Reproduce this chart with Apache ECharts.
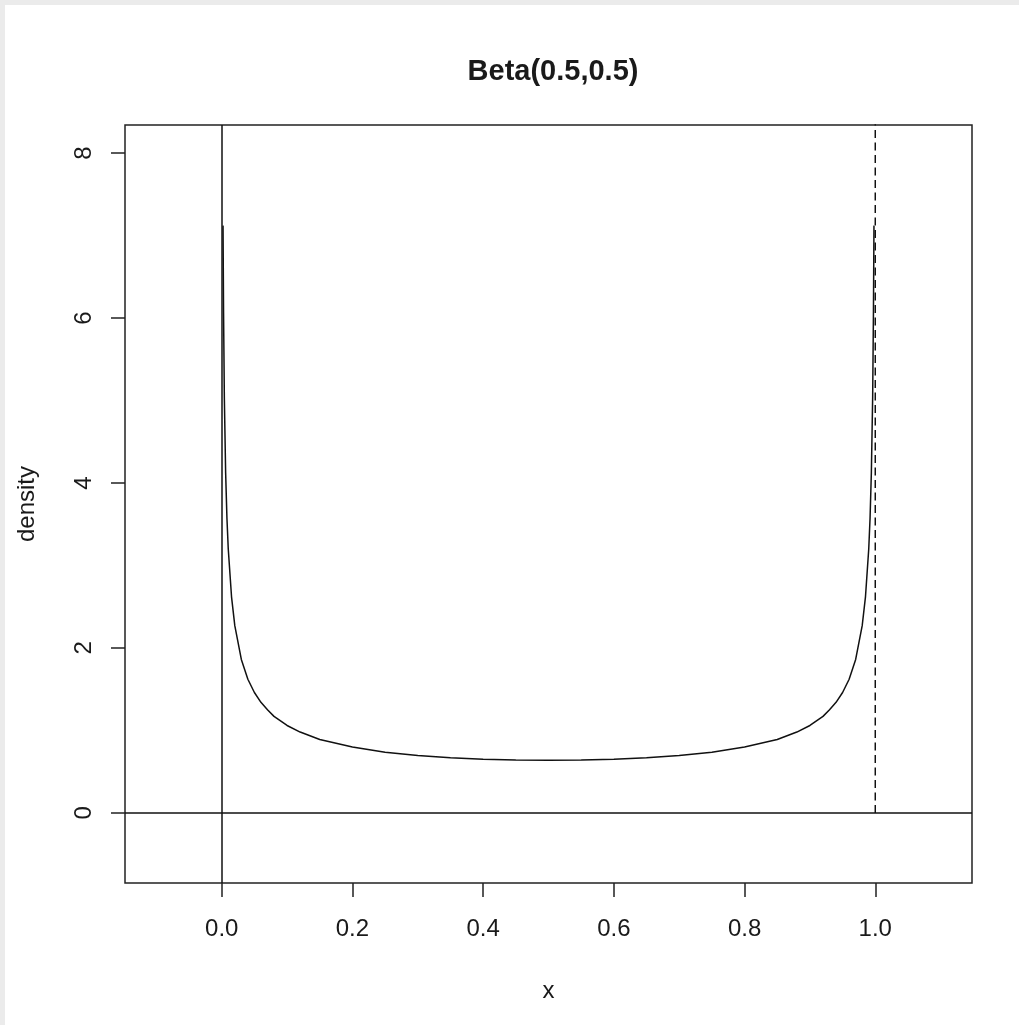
<!DOCTYPE html>
<html>
<head>
<meta charset="utf-8">
<script src="https://cdn.jsdelivr.net/npm/echarts@6/dist/echarts.min.js"></script>
<style>
  html, body { margin: 0; padding: 0; background: #fff; }
  #frame { position: absolute; left: 0; top: 0; width: 1019px; height: 1025px;
           border-left: 5px solid #ebebeb; border-top: 5px solid #ebebeb; box-sizing: border-box; }
  #betaChart { position: absolute; left: 0; top: 0; width: 1019px; height: 1025px; }
</style>
</head>
<body>
<div id="frame"></div>
<div id="betaChart"></div>
<script>
// values
var xValues = [0.002, 0.0028, 0.004, 0.006, 0.008, 0.01, 0.015, 0.02, 0.03, 0.04, 0.05, 0.06, 0.07, 0.08,
    0.1, 0.12, 0.15, 0.2, 0.25, 0.3, 0.35, 0.4, 0.45, 0.5, 0.55, 0.6, 0.65, 0.7, 0.75, 0.8, 0.85, 0.88,
    0.9, 0.92, 0.93, 0.94, 0.95, 0.96, 0.97, 0.98, 0.985, 0.99, 0.992, 0.994, 0.996, 0.9972, 0.998];
var densityValues = [7.12, 6.07, 5.04, 4.12, 3.57, 3.20, 2.62, 2.27, 1.86, 1.62, 1.46, 1.34, 1.25, 1.17,
    1.06, 0.98, 0.89, 0.80, 0.735, 0.695, 0.668, 0.650, 0.640, 0.637, 0.640, 0.650, 0.668, 0.695, 0.735, 0.80, 0.89, 0.98,
    1.06, 1.17, 1.25, 1.34, 1.46, 1.62, 1.86, 2.27, 2.62, 3.20, 3.57, 4.12, 5.04, 6.07, 7.12];
var xTicks = [0, 0.2, 0.4, 0.6, 0.8, 1.0];
var yTicks = [0, 2, 4, 6, 8];
var dashedX = [1, 1];
var dashedY = [0, 8.4];

var font = 'Liberation Sans, Arial, sans-serif';
var ink = '#1a1a1a';

var curve = xValues.map(function (x, i) { return [x, densityValues[i]]; });
var dashed = dashedX.map(function (x, i) { return [x, dashedY[i]]; });

var myChart = echarts.init(document.getElementById('betaChart'), null, { renderer: 'canvas' });

myChart.setOption({
    animation: false,
    title: {
        text: 'Beta(0.5,0.5)',
        left: 548,
        top: 52,
        textAlign: 'center',
        textStyle: { fontFamily: font, fontSize: 29, fontWeight: 'bold', color: ink }
    },
    grid: {
        left: 125, top: 125, width: 847, height: 758,
        show: true, borderColor: '#222', borderWidth: 1.5, backgroundColor: 'transparent'
    },
    xAxis: {
        type: 'value',
        min: -0.148, max: 1.148,
        name: 'x',
        nameLocation: 'middle',
        nameGap: 96,
        nameTextStyle: { fontFamily: font, fontSize: 24, color: ink },
        axisLine: { show: false, onZero: false },
        splitLine: { show: false },
        axisTick: { show: true, inside: false, length: 14, customValues: xTicks,
            lineStyle: { color: '#222', width: 1.5 } },
        axisLabel: { customValues: xTicks, margin: 34, fontFamily: font, fontSize: 24, color: ink,
            formatter: function (v) { return v.toFixed(1); } }
    },
    yAxis: {
        type: 'value',
        min: -0.85, max: 8.34,
        name: 'density',
        nameLocation: 'middle',
        nameRotate: 90,
        nameGap: 86,
        nameTextStyle: { fontFamily: font, fontSize: 24, color: ink },
        axisLine: { show: false, onZero: false },
        splitLine: { show: false },
        axisTick: { show: true, inside: false, length: 14, customValues: yTicks,
            lineStyle: { color: '#222', width: 1.5 } },
        axisLabel: { customValues: yTicks, rotate: 90, margin: 29, fontFamily: font, fontSize: 24, color: ink }
    },
    series: [
        {
            type: 'line',
            data: curve,
            showSymbol: false,
            clip: true,
            lineStyle: { color: '#111', width: 1.5 },
            markLine: {
                silent: true,
                symbol: 'none',
                label: { show: false },
                lineStyle: { color: '#111', width: 1.5, type: 'solid' },
                data: [{ yAxis: 0 }, { xAxis: 0 }]
            }
        },
        {
            type: 'line',
            data: dashed,
            showSymbol: false,
            clip: true,
            lineStyle: { color: '#111', width: 1.5, type: [8, 4.5] }
        }
    ]
});
</script>
</body>
</html>
